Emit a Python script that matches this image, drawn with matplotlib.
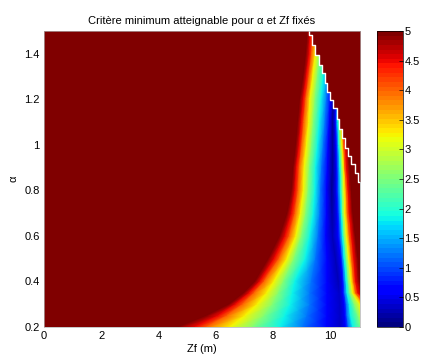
import numpy as np
import matplotlib
matplotlib.use("Agg")
import matplotlib.pyplot as plt
from matplotlib.ticker import FormatStrFormatter

plt.rcParams['font.family'] = ['Liberation Sans', 'DejaVu Sans']
plt.rcParams['font.size'] = 8

# rows of the map (alpha) and, per row, the Zf where the criterion reaches each level
alpha_rows = [0.2, 0.25, 0.3, 0.35, 0.4, 0.5, 0.6, 0.7, 0.8, 0.9, 1.0, 1.1, 1.2, 1.3, 1.4, 1.5]

levels_left = [5.0, 4.5, 4.0, 3.25, 2.5, 1.8, 1.2, 0.6]
zf_left_50 = [4.70, 5.69, 6.48, 6.99, 7.38, 7.85, 8.25, 8.51, 8.66, 8.72, 8.81, 8.88, 8.95, 9.07, 9.16, 9.22]
zf_left_45 = [5.28, 6.10, 6.70, 7.18, 7.55, 8.05, 8.43, 8.66, 8.78, 8.83, 8.93, 9.00, 9.07, 9.18, 9.28, 9.32]
zf_left_40 = [5.69, 6.40, 6.95, 7.35, 7.70, 8.22, 8.58, 8.78, 8.89, 8.93, 9.02, 9.09, 9.16, 9.27, 9.36, 9.42]
zf_left_325 = [6.50, 7.03, 7.46, 7.79, 8.04, 8.50, 8.81, 8.97, 9.07, 9.10, 9.18, 9.26, 9.30, 9.40, 9.49, 9.56]
zf_left_25 = [7.30, 7.70, 8.00, 8.20, 8.38, 8.75, 9.01, 9.16, 9.24, 9.28, 9.36, 9.42, 9.48, 9.56, 9.65, 9.71]
zf_left_18 = [8.25, 8.43, 8.62, 8.69, 8.78, 9.14, 9.30, 9.42, 9.48, 9.50, 9.57, 9.63, 9.69, 9.77, 9.84, 9.88]
zf_left_12 = [9.06, 9.20, 9.30, 9.30, 9.35, 9.50, 9.59, 9.65, 9.67, 9.71, 9.77, 9.83, 9.88, 9.94, 10.00, 10.03]
zf_left_06 = [9.88, 9.90, 9.90, 9.90, 9.90, 9.90, 9.86, 9.88, 9.88, 9.91, 9.94, 9.98, 10.02, 10.07, 10.12, 10.15]

# minimum of each row
zf_min = [10.35, 10.35, 10.35, 10.33, 10.30, 10.20, 10.09, 10.08, 10.07, 10.09, 10.09, 10.09, 10.12, 10.16, 10.21, 10.23]
crit_min = [0.35, 0.35, 0.35, 0.33, 0.30, 0.30, 0.25, 0.20, 0.15, 0.10, 0.10, 0.15, 0.20, 0.25, 0.30, 0.35]

levels_right = [0.6, 1.2, 1.8, 2.5, 3.25, 4.0, 4.5, 5.0]
zf_right_06 = [10.55, 10.52, 10.50, 10.45, 10.44, 10.38, 10.29, 10.26, 10.23, 10.23, 10.21, 10.19, 10.20, 10.24, 10.29, 10.31]
zf_right_12 = [10.65, 10.60, 10.58, 10.52, 10.50, 10.44, 10.37, 10.33, 10.30, 10.29, 10.27, 10.23, 10.25, 10.29, 10.34, 10.36]
zf_right_18 = [10.80, 10.72, 10.68, 10.60, 10.57, 10.50, 10.44, 10.40, 10.37, 10.35, 10.31, 10.28, 10.30, 10.34, 10.39, 10.41]
zf_right_25 = [11.10, 10.98, 10.85, 10.70, 10.65, 10.58, 10.50, 10.45, 10.43, 10.41, 10.36, 10.33, 10.35, 10.39, 10.44, 10.46]
zf_right_325 = [11.30, 11.15, 11.05, 10.80, 10.74, 10.66, 10.58, 10.52, 10.50, 10.47, 10.42, 10.38, 10.40, 10.44, 10.49, 10.51]
zf_right_40 = [11.50, 11.35, 11.20, 10.90, 10.83, 10.76, 10.68, 10.61, 10.58, 10.52, 10.48, 10.43, 10.45, 10.49, 10.54, 10.56]
zf_right_45 = [11.65, 11.50, 11.35, 10.98, 10.90, 10.84, 10.76, 10.68, 10.64, 10.58, 10.54, 10.47, 10.50, 10.54, 10.59, 10.61]
zf_right_50 = [11.85, 11.70, 11.55, 11.12, 11.02, 10.96, 10.87, 10.78, 10.73, 10.68, 10.61, 10.52, 10.55, 10.60, 10.65, 10.67]

# limit of the feasible domain (white staircase)
limit_zf = [9.28, 9.36, 9.48, 9.60, 9.71, 9.83, 9.90, 10.00, 10.10, 10.23, 10.33, 10.41,
            10.52, 10.64, 10.72, 10.87, 10.99, 11.10, 11.20]
limit_alpha = [1.52, 1.484, 1.44, 1.396, 1.352, 1.315, 1.271, 1.234, 1.198, 1.16, 1.113, 1.069,
               1.032, 0.988, 0.952, 0.915, 0.878, 0.837, 0.80]

x_ticks = [0, 2, 4, 6, 8, 10]
y_ticks = [0.2, 0.4, 0.6, 0.8, 1.0, 1.2, 1.4]
cb_ticks = [0, 0.5, 1, 1.5, 2, 2.5, 3, 3.5, 4, 4.5, 5]

cols = [zf_left_50, zf_left_45, zf_left_40, zf_left_325, zf_left_25, zf_left_18, zf_left_12, zf_left_06,
        zf_min,
        zf_right_06, zf_right_12, zf_right_18, zf_right_25, zf_right_325, zf_right_40, zf_right_45, zf_right_50]
X = np.column_stack(cols)
Y = np.tile(np.array(alpha_rows)[:, None], (1, X.shape[1]))
C = np.column_stack([np.full(len(alpha_rows), v) for v in levels_left]
                    + [np.array(crit_min)]
                    + [np.full(len(alpha_rows), v) for v in levels_right])

cmap = plt.get_cmap('jet', 64)
top_colour = cmap(1.0)

fig = plt.figure(figsize=(4.21, 3.58), dpi=100)
ax = fig.add_axes([44 / 421, 31 / 358, 316 / 421, 296 / 358])
cax = fig.add_axes([377 / 421, 31 / 358, 26 / 421, 296 / 358])

ax.set_facecolor(top_colour)
mesh = ax.pcolormesh(X, Y, C, shading='gouraud', cmap=cmap, vmin=0, vmax=5)
ax.fill_between(limit_zf, limit_alpha, 1.6, step='pre', color=top_colour, lw=0)
ax.plot(limit_zf, limit_alpha, drawstyle='steps-pre', color='white', lw=1.0)

ax.set_xlim(0, 11.05)
ax.set_ylim(0.2, 1.5)
ax.set_xticks(x_ticks)
ax.set_yticks(y_ticks)
ax.yaxis.set_major_formatter(FormatStrFormatter('%g'))
ax.tick_params(length=0, pad=3)
for s in ax.spines.values():
    s.set_linewidth(0.5)
    s.set_color('#b0b0b0')

ax.set_title(u'Crit\u00e8re minimum atteignable pour \u03b1 et Zf fix\u00e9s', fontsize=8, pad=5)
ax.set_xlabel('Zf (m)', labelpad=2)
ax.set_ylabel(u'\u03b1', labelpad=4)

cb = fig.colorbar(mesh, cax=cax, ticks=cb_ticks)
cb.ax.yaxis.set_major_formatter(FormatStrFormatter('%g'))
cb.ax.tick_params(direction='in', length=3, width=0.5, pad=1)
cb.outline.set_linewidth(0.5)

fig.savefig('out.png', dpi=100)
